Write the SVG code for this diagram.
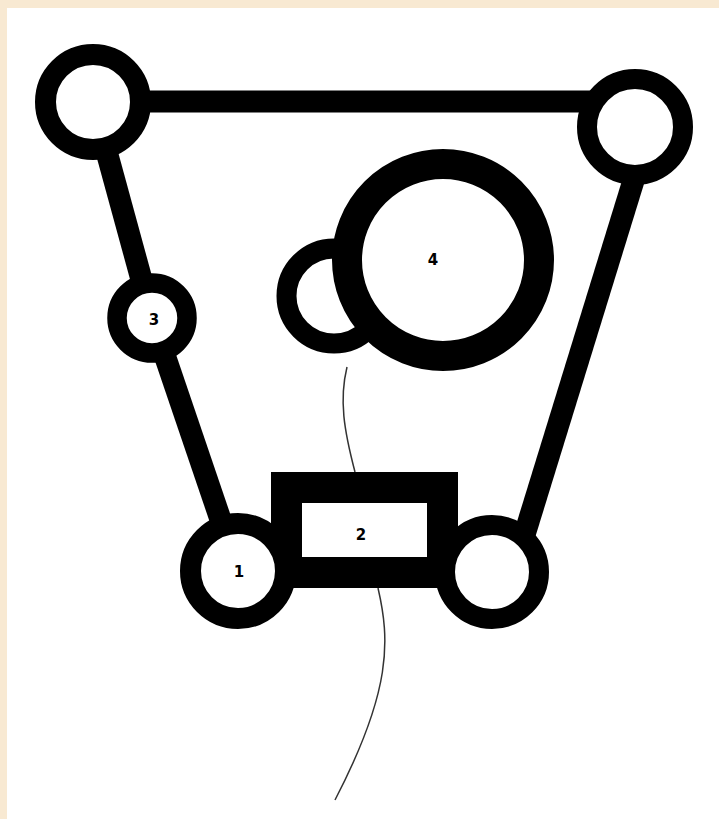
<svg xmlns="http://www.w3.org/2000/svg" width="719" height="819" viewBox="0 0 719 819">
  <style>
    .bar { stroke: #000; stroke-width: 22; stroke-linecap: butt; fill: none; }
    .ring { stroke: #000; fill: #fff; }
    .thin { stroke: #333; stroke-width: 1.5; fill: none; }
    .lbl { font-family: "DejaVu Sans", "Liberation Sans", sans-serif; font-size: 15px; font-weight: bold; fill: #000; text-anchor: middle; dominant-baseline: central; }
  </style>
  <rect x="0" y="0" width="719" height="819" fill="#f8e9d2"/>
  <rect x="7" y="8" width="712" height="811" fill="#fff"/>

  <g id="connectors">
    <line class="bar" x1="93" y1="101.5" x2="635" y2="101.5"/>
    <line class="bar" x1="93" y1="102" x2="152" y2="318"/>
    <line class="bar" x1="152" y1="318" x2="238" y2="571"/>
    <line class="bar" x1="650" y1="127" x2="513" y2="572"/>
    <path class="thin" d="M347,367 C339,400 344,430 355,472"/>
    <path class="thin" d="M378,588 C390,640 392,690 335,800"/>
  </g>

  <g id="node-2">
    <rect x="286.5" y="487.5" width="156" height="85" fill="#fff" stroke="#000" stroke-width="31"/>
    <text class="lbl" x="361" y="535">2</text>
  </g>
  <g id="node-top-left">
    <circle class="ring" cx="93" cy="102" r="47.5" stroke-width="21"/>
  </g>
  <g id="node-top-right">
    <circle class="ring" cx="635" cy="127" r="48" stroke-width="20"/>
  </g>
  <g id="node-3">
    <circle class="ring" cx="152" cy="318" r="35" stroke-width="19.5"/>
    <text class="lbl" x="154" y="320">3</text>
  </g>
  <g id="node-1">
    <circle class="ring" cx="238" cy="571" r="47.5" stroke-width="21"/>
    <text class="lbl" x="239" y="572">1</text>
  </g>
  <g id="node-bottom-right">
    <circle class="ring" cx="492" cy="572" r="47" stroke-width="20"/>
  </g>
  <g id="node-small">
    <circle class="ring" cx="334" cy="296" r="47.5" stroke-width="20"/>
  </g>
  <g id="node-4">
    <circle class="ring" cx="443" cy="260" r="96" stroke-width="30"/>
    <text class="lbl" x="433" y="260">4</text>
  </g>
</svg>
